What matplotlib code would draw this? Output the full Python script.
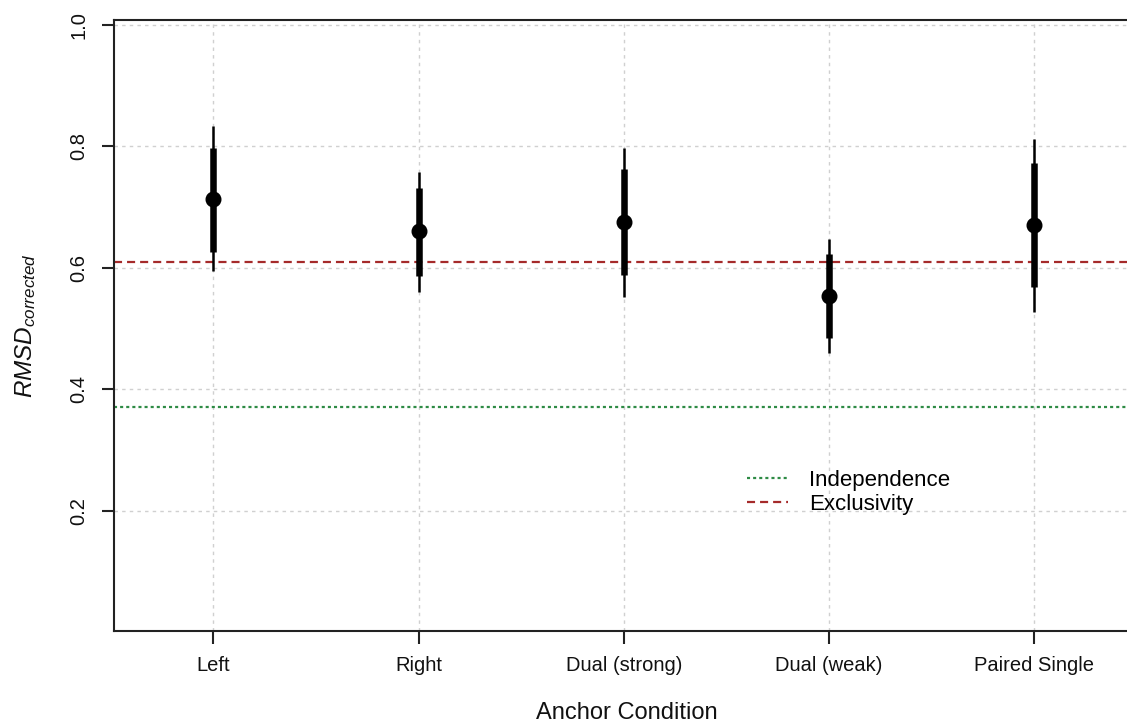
import matplotlib
matplotlib.use("Agg")
import matplotlib.pyplot as plt
from matplotlib.lines import Line2D

# ---- data ----
conditions = ["Left", "Right", "Dual (strong)", "Dual (weak)", "Paired Single"]
median = [0.713, 0.660, 0.676, 0.554, 0.671]
inner_lo = [0.626, 0.587, 0.588, 0.484, 0.568]
inner_hi = [0.798, 0.731, 0.763, 0.623, 0.773]
outer_lo = [0.595, 0.561, 0.552, 0.459, 0.528]
outer_hi = [0.834, 0.758, 0.797, 0.647, 0.813]
independence = 0.371
exclusivity = 0.610
y_ticks = [0.2, 0.4, 0.6, 0.8, 1.0]
y_ticklabels = ["0.2", "0.4", "0.6", "0.8", "1.0"]

plt.rcParams['font.family'] = ['Liberation Sans', 'DejaVu Sans']
plt.rcParams['mathtext.fontset'] = 'custom'
plt.rcParams['mathtext.it'] = 'Liberation Sans:italic'
plt.rcParams['mathtext.rm'] = 'Liberation Sans'
plt.rcParams['lines.scale_dashes'] = False

W, H = 1127, 727
fig = plt.figure(figsize=(W / 100, H / 100), dpi=100)
ax_left, ax_bottom = 113.5, 631.0
ax_w, ax_h = 1026.5, 611.3
ax = fig.add_axes([ax_left / W, (H - ax_bottom) / H, ax_w / W, ax_h / H])

x = list(range(1, len(conditions) + 1))
ax.set_xlim(0.514, 5.514)
ax.set_ylim(0.002, 1.0087)

# grid
grid_col = '#d0d0d0'
for xi in x:
    ax.axvline(xi, color=grid_col, lw=1.0, dashes=(2.5, 3.0), zorder=0)
for yi in y_ticks:
    ax.axhline(yi, color=grid_col, lw=1.0, dashes=(2.5, 3.0), zorder=0)

# reference lines
ax.axhline(independence, color='#2e8b45', lw=1.6, dashes=(2.2, 2.2), zorder=1)
ax.axhline(exclusivity, color='#a52a2a', lw=1.6, dashes=(5.8, 3.6), zorder=1)

# intervals
ax.vlines(x, outer_lo, outer_hi, color='black', lw=1.8, zorder=3)
ax.vlines(x, inner_lo, inner_hi, color='black', lw=4.7, zorder=3,
          capstyle='butt')
ax.plot(x, median, 'o', color='black', ms=10.5, zorder=4)

# axes styling
for s in ['left', 'bottom', 'top']:
    ax.spines[s].set_color('#222222')
    ax.spines[s].set_linewidth(1.5)
ax.spines['right'].set_visible(False)

ax.set_xticks(x)
ax.set_xticklabels(conditions, fontsize=14.5, color='#111111')
ax.set_yticks(y_ticks)
ax.set_yticklabels(y_ticklabels, fontsize=14.5, rotation=90, va='center',
                   color='#111111')
ax.tick_params(axis='both', length=9, width=1.5, color='#222222')
ax.tick_params(axis='x', pad=9)
ax.tick_params(axis='y', pad=9)

ax.set_xlabel('Anchor Condition', fontsize=17, color='#111111')
ax.xaxis.set_label_coords(0.5, -0.116)
ax.set_ylabel(r'$RMSD_{corrected}$', fontsize=17.5, color='#111111')
ax.yaxis.set_label_coords(-0.074, 0.5)

handles = [Line2D([], [], color='#2e8b45', lw=1.6, dashes=(2.2, 2.2)),
           Line2D([], [], color='#a52a2a', lw=1.6, dashes=(5.8, 3.6))]
ax.legend(handles, ['Independence', 'Exclusivity'], frameon=False,
          fontsize=16, loc='upper left',
          bbox_to_anchor=(746.7 / W, (H - 470) / H),
          bbox_transform=fig.transFigure, borderpad=0, borderaxespad=0,
          handlelength=1.85, handletextpad=0.95, labelspacing=0.13)

fig.savefig('out.png', dpi=100)
